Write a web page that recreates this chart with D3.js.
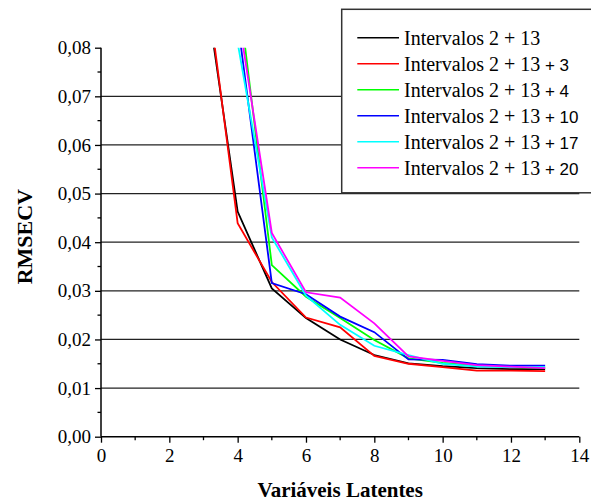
<!DOCTYPE html>
<html>
<head>
<meta charset="utf-8">
<script src="https://cdn.jsdelivr.net/npm/d3@7"></script>
<style>
  body { margin: 0; background: #fff; }
  svg { display: block; }
</style>
</head>
<body>
<div id="chart"></div>
<script>
// latent variables on x, RMSECV on y
var latentes = [3, 4, 5, 6, 7, 8, 9, 10, 11, 12, 13];

var int2_13    = [0.095, 0.0463, 0.0305, 0.0244, 0.0200, 0.0168, 0.0151, 0.0145, 0.0141, 0.0139, 0.0139];
var int2_13_3  = [0.098, 0.0439, 0.0318, 0.0245, 0.0225, 0.0166, 0.0150, 0.0143, 0.0136, 0.0136, 0.0135];
var int2_13_4  = [0.140, 0.0926, 0.0353, 0.0288, 0.0244, 0.0199, 0.0161, 0.0152, 0.0146, 0.0143, 0.0142];
var int2_13_10 = [0.135, 0.0854, 0.0316, 0.0293, 0.0247, 0.0215, 0.0159, 0.0158, 0.0149, 0.0146, 0.0146];
var int2_13_17 = [0.125, 0.0810, 0.0410, 0.0290, 0.0230, 0.0187, 0.0168, 0.0150, 0.0144, 0.0143, 0.0143];
var int2_13_20 = [0.130, 0.0876, 0.0419, 0.0297, 0.0286, 0.0233, 0.0165, 0.0156, 0.0147, 0.0144, 0.0141];

var seriesNames = ["Intervalos 2 + 13", "Intervalos 2 + 13 + 3", "Intervalos 2 + 13 + 4",
                   "Intervalos 2 + 13 + 10", "Intervalos 2 + 13 + 17", "Intervalos 2 + 13 + 20"];
var seriesValues = [int2_13, int2_13_3, int2_13_4, int2_13_10, int2_13_17, int2_13_20];
var seriesColors = ["#000000", "#ff0000", "#00ff00", "#0000ff", "#00ffff", "#ff00ff"];

var xTicks = [0, 2, 4, 6, 8, 10, 12, 14];
var yTicks = [0, 0.01, 0.02, 0.03, 0.04, 0.05, 0.06, 0.07, 0.08];

var W = 591, H = 502,
    margin = {left: 101, right: 12, top: 47.7, bottom: 65.3},
    width = 579.3 - margin.left,
    height = 436.7 - margin.top;

var svg = d3.select("#chart").append("svg")
    .attr("width", W)
    .attr("height", H);

var g = svg.append("g")
    .attr("transform", "translate(" + margin.left + "," + margin.top + ")");

var x = d3.scaleLinear().domain([0, 14]).range([0, width]),
    y = d3.scaleLinear().domain([0, 0.08]).range([height, 0]);

var serif = "'Liberation Serif', 'Times New Roman', serif";

// grid
g.append("g")
    .selectAll("line")
    .data(yTicks.filter(function(d) { return d > 0 && d < 0.08; }))
    .enter().append("line")
    .attr("x1", 0)
    .attr("x2", width)
    .attr("y1", function(d) { return y(d); })
    .attr("y2", function(d) { return y(d); })
    .attr("stroke", "#222")
    .attr("stroke-width", 1.2);

// lines
svg.append("clipPath").attr("id", "plotclip")
  .append("rect")
    .attr("x", 0).attr("y", 0)
    .attr("width", width).attr("height", height);

var line = d3.line()
    .x(function(d, i) { return x(latentes[i]); })
    .y(function(d) { return y(d); });

g.append("g")
    .attr("clip-path", "url(#plotclip)")
    .selectAll("path")
    .data(seriesValues)
    .enter().append("path")
    .attr("d", function(d) { return line(d); })
    .attr("fill", "none")
    .attr("stroke", function(d, i) { return seriesColors[i]; })
    .attr("stroke-width", 1.8)
    .attr("stroke-linejoin", "miter");

// axes
var yAxis = g.append("g")
    .call(d3.axisLeft(y).tickValues(yTicks).tickSize(6).tickPadding(4)
        .tickFormat(function(d) { return d3.format(".2f")(d).replace(".", ","); }));
var xAxis = g.append("g")
    .attr("transform", "translate(0," + height + ")")
    .call(d3.axisBottom(x).tickValues(xTicks).tickSize(6).tickPadding(6));

[yAxis, xAxis].forEach(function(a) {
  a.select(".domain").attr("stroke", "#000").attr("stroke-width", 1.5);
  a.selectAll(".tick line").attr("stroke", "#000").attr("stroke-width", 1.3);
  a.selectAll(".tick text")
      .attr("fill", "#000")
      .style("font-family", serif)
      .style("font-size", "19px");
});
yAxis.select(".domain").attr("d", "M0," + height + "V0");
xAxis.select(".domain").attr("d", "M0,0H" + width);

// minor ticks
g.append("g").selectAll("line")
    .data(d3.range(0.005, 0.08, 0.01))
    .enter().append("line")
    .attr("x1", -3.5).attr("x2", 0)
    .attr("y1", function(d) { return y(d); })
    .attr("y2", function(d) { return y(d); })
    .attr("stroke", "#000").attr("stroke-width", 1.3);

g.append("g").selectAll("line")
    .data(d3.range(1, 14, 2))
    .enter().append("line")
    .attr("y1", height).attr("y2", height + 3.5)
    .attr("x1", function(d) { return x(d); })
    .attr("x2", function(d) { return x(d); })
    .attr("stroke", "#000").attr("stroke-width", 1.3);

// titles
svg.append("text")
    .attr("x", margin.left + width / 2)
    .attr("y", 497)
    .attr("text-anchor", "middle")
    .style("font-family", serif)
    .style("font-weight", "bold")
    .style("font-size", "21px")
    .text("Variáveis Latentes");

svg.append("text")
    .attr("transform", "translate(31.5,236.7) rotate(-90)")
    .attr("text-anchor", "middle")
    .style("font-family", serif)
    .style("font-weight", "bold")
    .style("font-size", "22px")
    .text("RMSECV");

// legend
var legend = svg.append("g");
legend.append("rect")
    .attr("x", 341.7)
    .attr("y", 9.3)
    .attr("width", 260)
    .attr("height", 183.5)
    .attr("fill", "#fff")
    .attr("stroke", "#333")
    .attr("stroke-width", 1.5);

var item = legend.selectAll(".item")
    .data(seriesNames)
    .enter().append("g")
    .attr("class", "item")
    .attr("transform", function(d, i) { return "translate(0," + (37.7 + 26 * i) + ")"; });

item.append("line")
    .attr("x1", 357.3).attr("x2", 399)
    .attr("stroke", function(d, i) { return seriesColors[i]; })
    .attr("stroke-width", 1.5);

var label = item.append("text")
    .attr("x", 404)
    .attr("y", 7)
    .style("font-family", serif)
    .style("font-size", "20px");

label.append("tspan")
    .text(function(d) { return d.slice(0, 17); });
label.append("tspan")
    .style("font-family", "'Liberation Sans', Arial, sans-serif")
    .style("font-size", "17px")
    .text(function(d) { return d.slice(17).replace(/ /g, "\u00a0"); });
</script>
</body>
</html>
